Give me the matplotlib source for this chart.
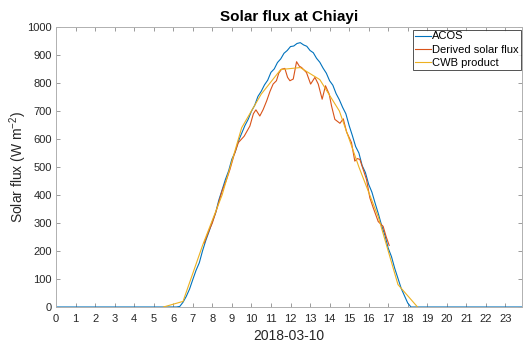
import numpy as np
import matplotlib
matplotlib.use("Agg")
import matplotlib.pyplot as plt

plt.rcParams["font.family"] = ["Liberation Sans", "DejaVu Sans"]
plt.rcParams["mathtext.default"] = "regular"

# ACOS observations, 10-minute samples from 06:10 to 18:10 (W m^-2)
acos_day_start = 6 + 10 / 60
acos_step = 10 / 60
acos_day_values = [
    0, 2, 17, 38, 64, 98, 131, 158, 201, 238, 270, 305, 336, 382, 418, 455,
    486, 528, 553, 592, 620, 648, 670, 699, 720, 752, 770, 793, 810, 838, 850,
    873, 886, 906, 916, 930, 932, 941, 944, 936, 931, 916, 908, 888, 874, 853,
    835, 808, 792, 762, 740, 713, 690, 648, 612, 573, 550, 505, 480, 438, 410,
    370, 332, 290, 256, 210, 180, 138, 102, 66, 40, 14, 0,
]
acos_night_hours = [0.0, 23.85]

# Derived solar flux (hour, W m^-2)
derived_hours = [
    7.58, 7.8, 8.0, 8.22, 8.5, 8.7, 8.9, 9.1, 9.33, 9.63, 9.92, 10.1, 10.23,
    10.43, 10.6, 10.78, 10.95, 11.11, 11.28, 11.4, 11.54, 11.71, 11.85, 11.97,
    12.14, 12.31, 12.45, 12.57, 12.82, 13.03, 13.25, 13.42, 13.62, 13.79,
    13.98, 14.1, 14.27, 14.53, 14.7, 14.87, 15.12, 15.29, 15.42, 15.55, 15.72,
    15.89, 16.06, 16.23, 16.49, 16.74, 16.9, 17.05,
]
derived_values = [
    228, 268, 300, 348, 415, 450, 491, 540, 587, 610, 646, 690, 704,
    682, 705, 736, 770, 796, 808, 835, 849, 852, 820, 808,
    814, 876, 860, 855, 837, 796, 820, 796, 742, 790,
    760, 718, 670, 656, 672, 625, 587, 521, 530, 527, 491,
    455, 390, 355, 305, 288, 250, 220,
]

# CWB hourly product (hour, W m^-2)
cwb_hours = [5.5, 6.5, 7.5, 8.5, 9.5, 10.5, 11.5, 12.5, 13.5, 14.5, 15.5, 16.5, 17.5, 18.5]
cwb_values = [0, 20, 220, 400, 640, 760, 848, 855, 812, 700, 500, 320, 80, 0]

hour_ticks = list(range(0, 24))
flux_ticks = list(range(0, 1001, 100))

acos_hours = np.concatenate([
    [acos_night_hours[0]],
    acos_day_start + np.arange(len(acos_day_values)) * acos_step,
    [acos_night_hours[1]],
])
acos_values = np.concatenate([[0], acos_day_values, [0]])

fig = plt.figure(figsize=(5.26, 3.47), dpi=100)
ax = fig.add_axes([0.1065, 0.1153, 0.886, 0.807])

ax.plot(acos_hours, acos_values, color="#0072BD", lw=0.8, label="ACOS")
ax.plot(derived_hours, derived_values, color="#D95319", lw=0.8, label="Derived solar flux")
ax.plot(cwb_hours, cwb_values, color="#EDB120", lw=0.8, label="CWB product")

ax.set_xlim(0, 23.85)
ax.set_ylim(0, 1000)
ax.set_xticks(hour_ticks)
ax.set_yticks(flux_ticks)

for s in ax.spines.values():
    s.set_color("#b0b0b0")
    s.set_linewidth(0.7)
ax.tick_params(direction="in", length=3, width=0.6, color="#8a8a8a",
               labelsize=8, labelcolor="#262626", top=True, right=True)
ax.tick_params(axis="x", pad=5)
ax.tick_params(axis="y", pad=3)

ax.set_title("Solar flux at Chiayi", fontsize=11, fontweight="bold", pad=4)
ax.set_xlabel("2018-03-10", fontsize=10, color="#262626", labelpad=4)
ax.set_ylabel("Solar flux (W m$^{-2}$)", fontsize=10, color="#262626", labelpad=-1)

leg = ax.legend(loc="upper right", fontsize=8, frameon=True, fancybox=False,
                borderpad=0.15, handlelength=1.4, handletextpad=0.15,
                labelspacing=0.3, borderaxespad=0.25, bbox_to_anchor=(1.003, 1.0))
leg.get_frame().set_edgecolor("#262626")
leg.get_frame().set_linewidth(0.7)

fig.savefig("out.png", dpi=100)
